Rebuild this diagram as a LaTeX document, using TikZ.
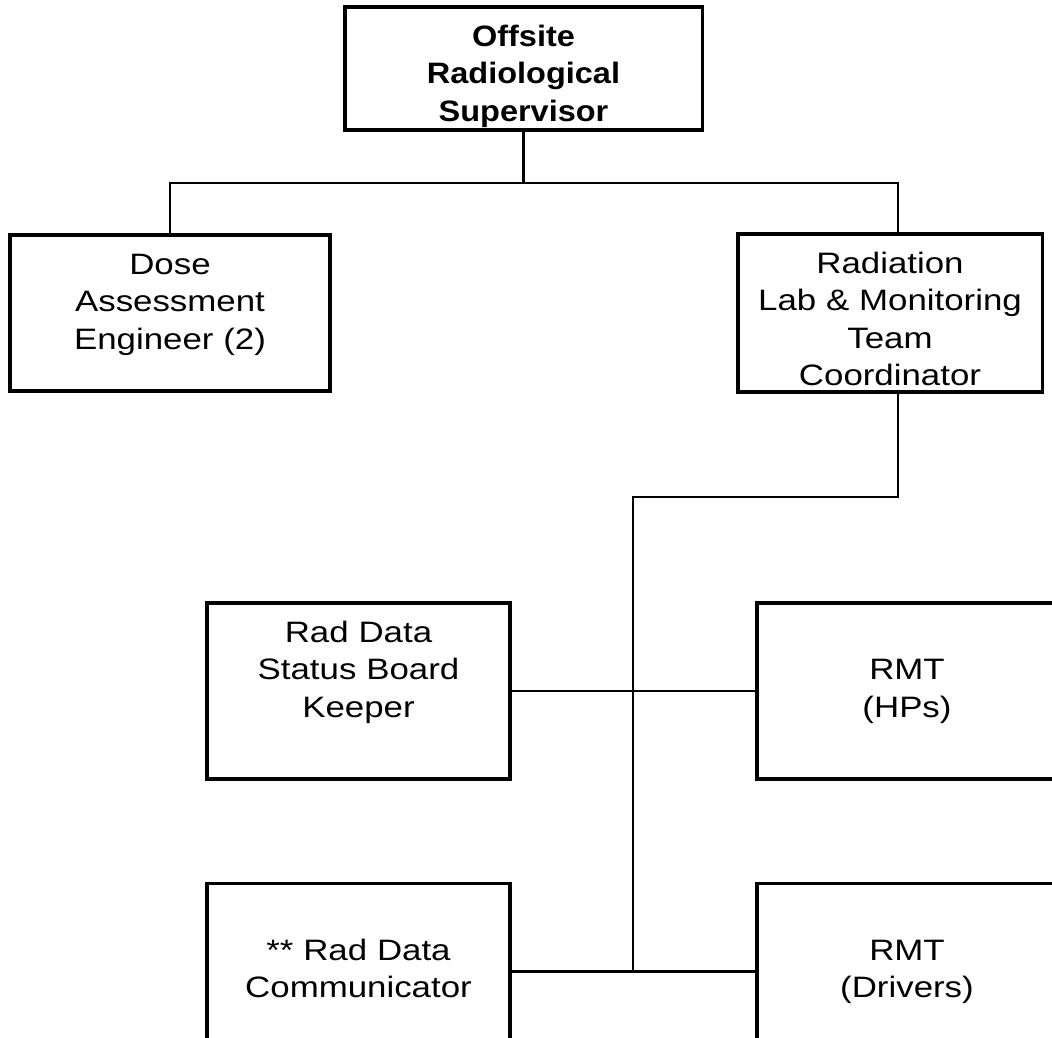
\documentclass[tikz,border=0pt]{standalone}
\usepackage{fontspec}
\setmainfont{Liberation Sans}[UprightFeatures={FakeStretch=1.18},BoldFeatures={FakeStretch=1.1}]
\usepackage{tikz}

\begin{document}
\begin{tikzpicture}[x=0.025cm, y=-0.025cm,
        box/.style 2 args={draw, line width=2.2pt, inner sep=0pt, align=center,
            font=\fontsize{21}{26.7}\selectfont, text width=#1,
            text height=0.45cm+15pt, text depth=#2-0.45cm-15pt},
        link/.style={line width=1.6pt}]
        \clip (0,0) rectangle (1052,1038);

        \node[box={8.925cm}{3.075cm}] (0) at (523.5,68.5) {\bfseries Offsite\\Radiological\\Supervisor};
        \node[box={8cm}{3.9cm}] (1) at (170,313) {Dose\\Assessment\\Engineer (2)};
        \node[box={7.6cm}{3.95cm}] (2) at (890,313) {Radiation\\Lab \& Monitoring\\Team\\Coordinator};
        \node[box={7.575cm}{4.4cm}] (3) at (358.5,691) {Rad Data\\Status Board\\Keeper};
        \node[box={7.5cm}{4.4cm}] (4) at (907,691) {\mbox{}\\RMT\\(HPs)};
        \node[box={7.575cm}{4.4cm}] (5) at (358.5,971.5) {\mbox{}\\{}** Rad Data\\Communicator};
        \node[box={7.5cm}{4.4cm}] (6) at (907,971.5) {\mbox{}\\RMT\\(Drivers)};

        \coordinate (a) at (523.5,183);
        \coordinate (b) at (633,497);
        \coordinate (c) at (633,971.5);

        \draw[link] (0) -- (a);
        \draw[link] (1.north) |- (a) -| ([xshift=0.2cm]2.north);
        \draw[link] ([xshift=0.2cm]2.south) |- (b) -- (c);
        \draw[link] (3) -- (4);
        \draw[link] (5) -- (6);
    \end{tikzpicture}
\end{document}
